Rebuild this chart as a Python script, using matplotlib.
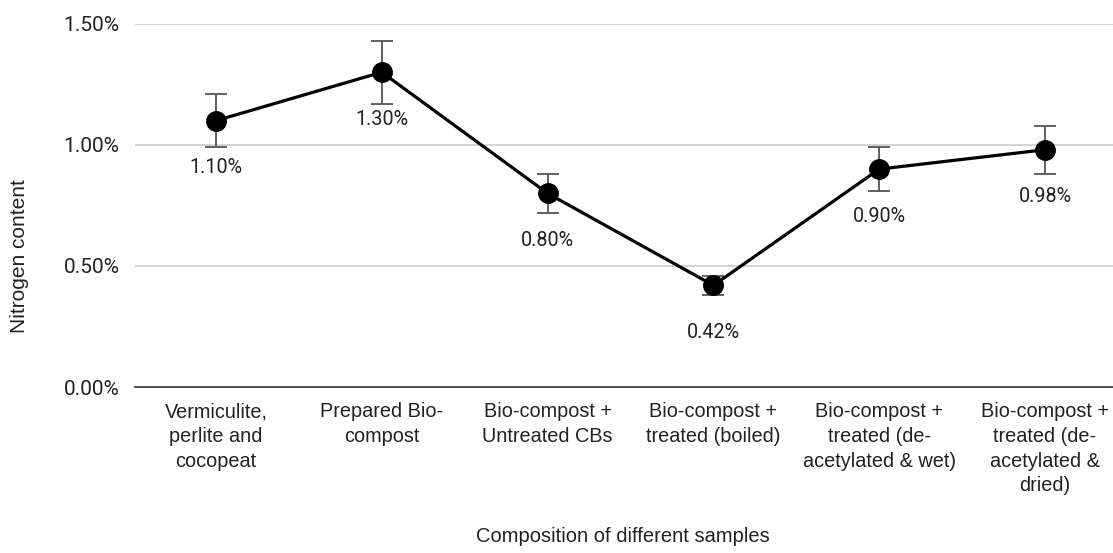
import numpy as np
import matplotlib
matplotlib.use("Agg")
import matplotlib.pyplot as plt
from matplotlib.ticker import FuncFormatter

categories = [
    "Vermiculite,\nperlite and\ncocopeat",
    "Prepared Bio-\ncompost",
    "Bio-compost +\nUntreated CBs",
    "Bio-compost +\ntreated (boiled)",
    "Bio-compost +\ntreated (de-\nacetylated & wet)",
    "Bio-compost +\ntreated (de-\nacetylated &\ndried)",
]
nitrogen = [1.10, 1.30, 0.80, 0.42, 0.90, 0.98]
errors = [0.11, 0.13, 0.08, 0.04, 0.09, 0.10]
yticks = [0.0, 0.5, 1.0, 1.5]

plt.rcParams['font.family'] = ['Roboto', 'DejaVu Sans']
arial = ['Liberation Sans', 'DejaVu Sans']

fig = plt.figure(figsize=(11.13, 5.53), dpi=100)
ax = fig.add_axes([0.121, 0.300, 0.879, 0.657])

x = np.arange(len(categories))
ax.errorbar(x, nitrogen, yerr=errors, fmt='none', ecolor='#555555',
            elinewidth=1.3, capsize=8, capthick=1.3, zorder=2)
ax.plot(x, nitrogen, color='black', lw=2.3, marker='o', markersize=14, zorder=3)

for xi, v in zip(x, nitrogen):
    ax.annotate(f"{v:.2f}%", (xi, v), xytext=(0, -34), textcoords='offset points',
                ha='center', va='center', fontsize=14.2, color='#222222')

ax.set_xlim(-0.49, 5.41)
ax.set_ylim(0, 1.5)
ax.set_yticks(yticks)
ax.yaxis.set_major_formatter(FuncFormatter(lambda v, p: f"{v:.2f}%"))
ax.grid(axis='y', color='#cccccc', lw=1.2)
ax.set_axisbelow(True)
for s in ['top', 'right', 'left']:
    ax.spines[s].set_visible(False)
ax.spines['bottom'].set_color('#444444')
ax.spines['bottom'].set_linewidth(1.3)
ax.tick_params(axis='y', length=0, pad=11, labelsize=15, labelcolor='#222222')
ax.tick_params(axis='x', length=0, pad=11)
ax.set_xticks(x)
ax.set_xticklabels(categories, family=arial, fontsize=14.3,
                   color='#222222', linespacing=1.38)

fig.text(20 / 1113, 1 - 256 / 553, "Nitrogen content", family=arial, fontsize=15,
         rotation=90, ha='center', va='center', color='#222222')
fig.text(623 / 1113, 1 - 537 / 553, "Composition of different samples",
         family=arial, fontsize=14.5, ha='center', va='center', color='#222222')

fig.savefig("out.png", dpi=100)
